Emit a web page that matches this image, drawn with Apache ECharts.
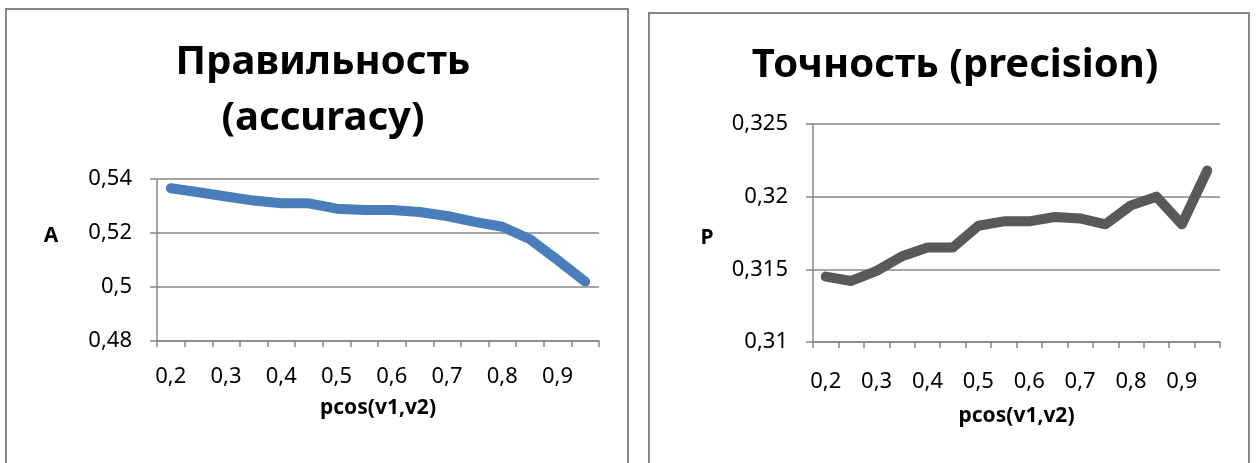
<!DOCTYPE html>
<html>
<head>
<meta charset="utf-8">
<script src="https://cdn.jsdelivr.net/npm/echarts@6/dist/echarts.min.js"></script>
<style>
  html, body { margin: 0; padding: 0; background: #ffffff; }
  #chart { width: 1257px; height: 463px; }
</style>
</head>
<body>
<div id="chart"></div>
<script>
// pcos(v1,v2) thresholds, step 0.05
const categories = ['0,2','0,25','0,3','0,35','0,4','0,45','0,5','0,55','0,6','0,65','0,7','0,75','0,8','0,85','0,9','0,95'];

// Accuracy (A) per threshold
const accuracy = [0.5366, 0.5351, 0.5335, 0.5320, 0.5310, 0.5310, 0.5290, 0.5285, 0.5285, 0.5278, 0.5263, 0.5241, 0.5223, 0.5177, 0.5100, 0.5020];

// Precision (P) per threshold
const precision = [0.3145, 0.3142, 0.3149, 0.3159, 0.3165, 0.3165, 0.3180, 0.3183, 0.3183, 0.3186, 0.3185, 0.3181, 0.3194, 0.3200, 0.3181, 0.3218];

// Titles and axis names
const titleAccuracy = 'Правильность\n(accuracy)';
const titlePrecision = 'Точность (precision)';
const xName = 'pcos(v1,v2)';
const yNameA = 'A';
const yNameP = 'P';

const FONT = '"Noto Sans", "Open Sans", "DejaVu Sans", sans-serif';
const GRAY = '#878787';

// Decimal comma, no trailing zeros
function comma(v) {
  return String(+v.toFixed(4)).replace('.', ',');
}

function xAxisFor(gridIndex, labelMargin, nameGap) {
  return {
    type: 'category',
    gridIndex: gridIndex,
    data: categories,
    boundaryGap: true,
    name: xName,
    nameLocation: 'middle',
    nameGap: nameGap,
    nameTextStyle: { fontFamily: FONT, fontSize: 21, fontWeight: 'bold', color: '#000', verticalAlign: 'top' },
    axisLine: { show: true, lineStyle: { color: GRAY, width: 1.5 } },
    axisTick: { show: true, interval: 0, length: 6, lineStyle: { color: GRAY, width: 1.5 } },
    axisLabel: { interval: 1, margin: labelMargin, fontFamily: FONT, fontSize: 22, color: '#000' },
    splitLine: { show: false }
  };
}

function yAxisFor(gridIndex, min, max, interval) {
  return {
    type: 'value',
    gridIndex: gridIndex,
    min: min,
    max: max,
    interval: interval,
    axisLine: { show: true, lineStyle: { color: GRAY, width: 1.5 } },
    axisTick: { show: true, length: 7, lineStyle: { color: GRAY, width: 1.5 } },
    axisLabel: { margin: 25, fontFamily: FONT, fontSize: 22, color: '#000', formatter: comma },
    splitLine: { show: true, lineStyle: { color: GRAY, width: 1.5 } }
  };
}

function heading(text, x, y, size, lineHeight) {
  return {
    text: text,
    left: x, top: y,
    textAlign: 'center',
    textStyle: { fontFamily: FONT, fontSize: size, fontWeight: 'bold', color: '#000', lineHeight: lineHeight }
  };
}

const chart = echarts.init(document.getElementById('chart'), null, { renderer: 'canvas' });

chart.setOption({
  animation: false,
  backgroundColor: '#ffffff',
  title: [
    heading(titleAccuracy, 318, 30, 40, 56),
    heading(titlePrecision, 950, 33, 40, 56),
    // vertical-axis titles
    heading(yNameA, 46, 218, 21, 26),
    heading(yNameP, 702, 220, 21, 26)
  ],
  graphic: [
    { type: 'rect', shape: { x: 6, y: 9, width: 622, height: 480 }, style: { fill: 'none', stroke: GRAY, lineWidth: 2 }, silent: true },
    { type: 'rect', shape: { x: 649, y: 13, width: 600, height: 480 }, style: { fill: 'none', stroke: GRAY, lineWidth: 2 }, silent: true }
  ],
  grid: [
    { left: 157, right: 658, top: 179, bottom: 122 },
    { left: 813, right: 37, top: 124, bottom: 121 }
  ],
  xAxis: [
    xAxisFor(0, 25, 57),
    xAxisFor(1, 29, 64)
  ],
  yAxis: [
    yAxisFor(0, 0.48, 0.54, 0.02),
    yAxisFor(1, 0.31, 0.325, 0.005)
  ],
  series: [
    {
      type: 'line',
      xAxisIndex: 0, yAxisIndex: 0,
      data: accuracy,
      symbol: 'none',
      lineStyle: { color: '#4a7ebb', width: 10, cap: 'round', join: 'round' }
    },
    {
      type: 'line',
      xAxisIndex: 1, yAxisIndex: 1,
      data: precision,
      symbol: 'none',
      lineStyle: { color: '#595959', width: 10, cap: 'round', join: 'round' }
    }
  ]
});
</script>
</body>
</html>
